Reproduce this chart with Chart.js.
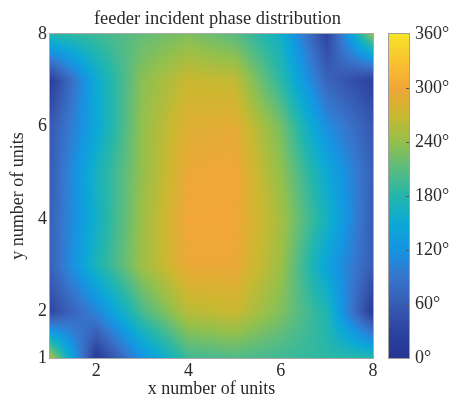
<!DOCTYPE html>
<html><head><meta charset="utf-8">
<script src="https://cdn.jsdelivr.net/npm/chart.js@4/dist/chart.umd.min.js"></script>
<style>html,body{margin:0;padding:0;background:#fff}canvas{display:block}</style>
</head><body>
<canvas id="c" width="452" height="401"></canvas>
<script>
// ---- data ----
const xUnits = [1, 2, 3, 4, 5, 6, 7, 8];
const yUnits = [1, 2, 3, 4, 5, 6, 7, 8];
// phase in degrees at x = 1..8, one array per y row
const phaseY1 = [255,  15, 120, 195, 205, 195, 185, 180];
const phaseY2 = [ 35, 105, 200, 260, 270, 230, 175,  15];
const phaseY3 = [ 65, 170, 245, 295, 295, 245, 140,  60];
const phaseY4 = [ 65, 160, 245, 300, 300, 250, 165,  60];
const phaseY5 = [ 60, 165, 240, 295, 300, 240, 150,  65];
const phaseY6 = [ 55, 145, 240, 285, 290, 225, 115,  55];
const phaseY7 = [ 20, 150, 235, 270, 265, 185,  70,  25];
const phaseY8 = [180, 195, 215, 230, 210, 160,  30, 240];
const phaseRows = [phaseY1, phaseY2, phaseY3, phaseY4, phaseY5, phaseY6, phaseY7, phaseY8];
const xTickValues = [2, 4, 6, 8];
const yTickValues = [1, 2, 4, 6, 8];
const colorbarTicks = [0, 60, 120, 180, 240, 300, 360];
const titleText = 'feeder incident phase distribution';
const xTitle = 'x number of units';
const yTitle = 'y number of units';

// ---- colormap (value in degrees -> rgb) ----
const cmapValues = [0, 30, 60, 90, 120, 150, 180, 210, 240, 270, 300, 330, 360];
const cmapColors = [
  [36, 54, 145], [44, 68, 160], [56, 92, 180], [55, 118, 205], [22, 148, 226],
  [12, 170, 212], [36, 182, 172], [90, 188, 128], [148, 192, 76], [202, 184, 48],
  [242, 166, 56], [250, 196, 48], [246, 228, 40]
];
function colorFor(v) {
  v = Math.max(0, Math.min(360, v));
  for (let k = 0; k < cmapValues.length - 1; k++) {
    if (v <= cmapValues[k + 1]) {
      const t = (v - cmapValues[k]) / (cmapValues[k + 1] - cmapValues[k]);
      const a = cmapColors[k], b = cmapColors[k + 1];
      return [a[0] + (b[0] - a[0]) * t, a[1] + (b[1] - a[1]) * t, a[2] + (b[2] - a[2]) * t];
    }
  }
  return cmapColors[cmapColors.length - 1];
}

const points = [];
yUnits.forEach((yy, j) => xUnits.forEach((xx, i) => points.push({x: xx, y: yy, v: phaseRows[j][i]})));

function findCell(arr, v) {
  let k = 0;
  while (k < arr.length - 2 && v > arr[k + 1]) k++;
  const t = Math.max(0, Math.min(1, (v - arr[k]) / (arr[k + 1] - arr[k])));
  return [k, t];
}

const heatmapPlugin = {
  id: 'heatmap',
  afterLayout(chart) {
    const t = chart.titleBlock;
    if (t) { t.left = 0; t.right = chart.width - 17; }
  },
  beforeDatasetsDraw(chart) {
    const {ctx, chartArea: a, scales} = chart;
    const xs = scales.x, ys = scales.y;
    const data = chart.data.datasets[0].data;
    const grid = yUnits.map(() => xUnits.map(() => 0));
    data.forEach(p => { grid[yUnits.indexOf(p.y)][xUnits.indexOf(p.x)] = p.v; });
    const left = Math.round(a.left), top = Math.round(a.top);
    const w = Math.round(a.right) - left, h = Math.round(a.bottom) - top;
    const off = document.createElement('canvas');
    off.width = w; off.height = h;
    const octx = off.getContext('2d');
    const img = octx.createImageData(w, h);
    for (let py = 0; py < h; py++) {
      const [j, ty] = findCell(yUnits, ys.getValueForPixel(top + py + 0.5));
      for (let px = 0; px < w; px++) {
        const [i, tx] = findCell(xUnits, xs.getValueForPixel(left + px + 0.5));
        const v = grid[j][i] * (1 - tx) * (1 - ty) + grid[j][i + 1] * tx * (1 - ty) +
                  grid[j + 1][i] * (1 - tx) * ty + grid[j + 1][i + 1] * tx * ty;
        const c = colorFor(v);
        const idx = (py * w + px) * 4;
        img.data[idx] = c[0]; img.data[idx + 1] = c[1]; img.data[idx + 2] = c[2]; img.data[idx + 3] = 255;
      }
    }
    octx.putImageData(img, 0, 0);
    ctx.save();
    ctx.drawImage(off, left, top);
    ctx.strokeStyle = '#a8a8a8';
    ctx.lineWidth = 1;
    ctx.strokeRect(left - 0.5, top - 0.5, w + 1, h + 1);
    // colorbar
    const cb = scales.cb;
    const bx = left + w + 16, bw = 20;
    for (let py = Math.round(cb.top); py < Math.round(cb.bottom); py++) {
      const c = colorFor(cb.getValueForPixel(py + 0.5));
      ctx.fillStyle = `rgb(${c[0] | 0},${c[1] | 0},${c[2] | 0})`;
      ctx.fillRect(bx, py, bw, 1);
    }
    ctx.strokeStyle = '#a0a0a0';
    ctx.strokeRect(bx - 0.5, Math.round(cb.top) - 0.5, bw + 1, Math.round(cb.bottom) - Math.round(cb.top) + 1);
    ctx.strokeStyle = '#555';
    colorbarTicks.forEach(t => {
      if (t === cb.min || t === cb.max) return;
      const yy = Math.round(cb.getPixelForValue(t)) + 0.5;
      ctx.beginPath(); ctx.moveTo(bx + bw, yy); ctx.lineTo(bx + bw - 3, yy); ctx.stroke();
    });
    ctx.restore();
  }
};

const fontFam = '"Liberation Serif", "Times New Roman", serif';
const txtColor = '#2a2a2a';

new Chart(document.getElementById('c'), {
  type: 'scatter',
  data: { datasets: [{ data: points, pointRadius: 0, pointHoverRadius: 0 }] },
  plugins: [heatmapPlugin],
  options: {
    responsive: false,
    animation: false,
    devicePixelRatio: 1,
    layout: { padding: 0 },
    plugins: {
      legend: { display: false },
      tooltip: { enabled: false },
      title: {
        display: true, text: titleText, color: txtColor,
        font: { family: fontFam, size: 18.5, weight: 'normal', lineHeight: 1.2 },
        padding: { top: 7.8, bottom: 4 }
      }
    },
    scales: {
      x: {
        type: 'linear', min: 1, max: 8,
        afterBuildTicks: s => { s.ticks = xTickValues.map(v => ({ value: v })); },
        afterFit: s => { s.height = 43; },
        grid: { display: false, drawTicks: false },
        border: { display: false },
        ticks: { color: txtColor, padding: 2, font: { family: fontFam, size: 18 } },
        title: { display: true, text: xTitle, color: txtColor, padding: { top: 0, bottom: 1 }, font: { family: fontFam, size: 18 } }
      },
      y: {
        type: 'linear', position: 'left', min: 1, max: 8,
        afterBuildTicks: s => { s.ticks = yTickValues.map(v => ({ value: v })); },
        afterFit: s => { s.width = 50; s.paddingTop = 0; s.paddingBottom = 0; },
        grid: { display: false, drawTicks: false },
        border: { display: false },
        ticks: { color: txtColor, padding: 3, font: { family: fontFam, size: 18 } },
        title: { display: true, text: yTitle, color: txtColor, padding: { top: 7, bottom: 0 }, font: { family: fontFam, size: 18 } }
      },
      cb: {
        type: 'linear', position: 'right', min: 0, max: 360,
        afterBuildTicks: s => { s.ticks = colorbarTicks.map(v => ({ value: v })); },
        afterFit: s => { s.width = 79; s.paddingTop = 0; s.paddingBottom = 0; },
        grid: { display: false, drawTicks: false },
        border: { display: false },
        ticks: { color: txtColor, padding: 42, font: { family: fontFam, size: 18 }, callback: v => v + '°' }
      }
    }
  }
});
</script>
</body></html>
